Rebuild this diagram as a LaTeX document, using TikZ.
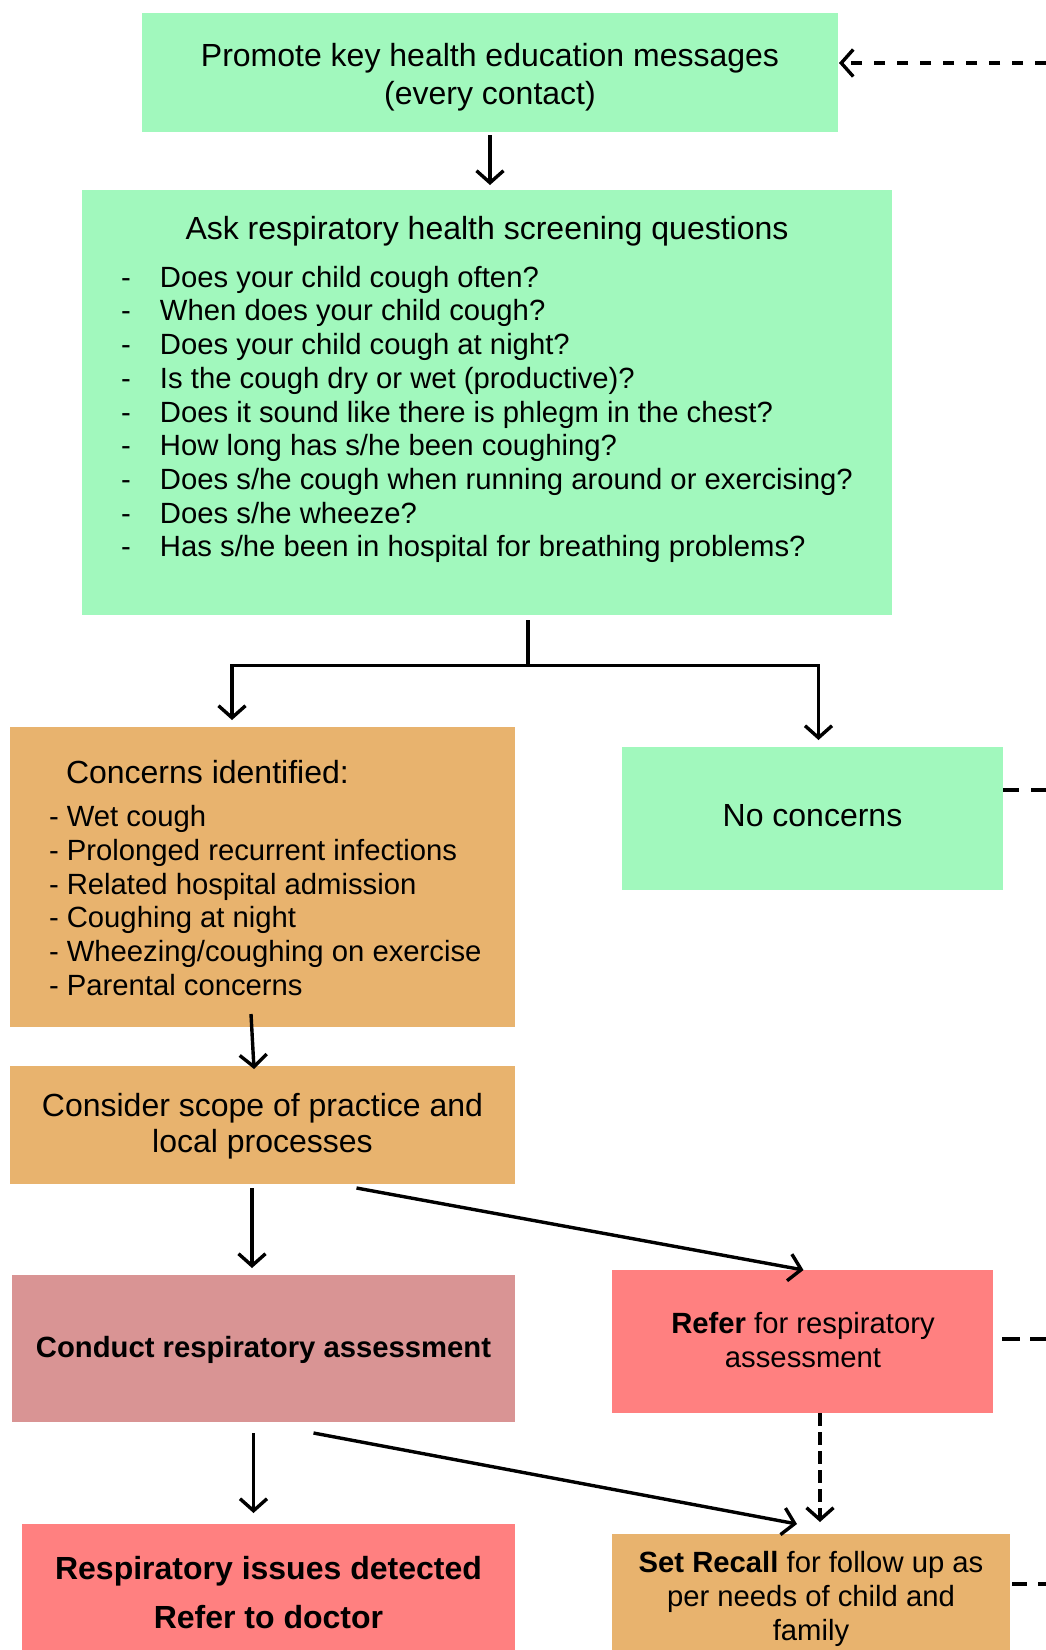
\documentclass[tikz,border=0pt]{standalone}
\usepackage{fontspec}
\setmainfont{Liberation Sans}
\usetikzlibrary{arrows.meta}
\definecolor{cgreen}{RGB}{161,248,189}
\definecolor{corange}{RGB}{232,179,110}
\definecolor{crose}{RGB}{217,148,148}
\definecolor{csalmon}{RGB}{255,128,128}
\newcommand\fsbig{\fontsize{32}{38}\selectfont}
\newcommand\fssmall{\fontsize{29.25}{34}\selectfont}
\begin{document}
\begin{tikzpicture}[x=1pt,y=-1pt,
  boxnode/.style={rectangle,draw=none,inner sep=0pt,outer sep=0pt},
  txt/.style={inner sep=0pt,outer sep=0pt,anchor=base},
  txtl/.style={inner sep=0pt,outer sep=0pt,anchor=base west},
  big/.style={font=\fsbig},
  small/.style={font=\fssmall},
  conn/.style={line width=3.4pt},
  arr/.style={line width=3.4pt,-{Straight Barb[length=12pt,width=27pt]}},
]
\useasboundingbox (0,0) rectangle (1046,1650);
% boxes
\node[boxnode,fill=cgreen,minimum width=696pt,minimum height=119pt] (promote) at (490,72.5) {};
\node[boxnode,fill=cgreen,minimum width=810pt,minimum height=425pt] (ask) at (487,402.5) {};
\node[boxnode,fill=corange,minimum width=505pt,minimum height=300pt] (concerns) at (262.5,877) {};
\node[boxnode,fill=cgreen,minimum width=381pt,minimum height=143pt] (noconc) at (812.5,818.5) {};
\node[boxnode,fill=corange,minimum width=505pt,minimum height=118pt] (consider) at (262.5,1125) {};
\node[boxnode,fill=crose,minimum width=503pt,minimum height=147pt] (conduct) at (263.5,1348.5) {};
\node[boxnode,fill=csalmon,minimum width=381pt,minimum height=143pt] (refer) at (802.5,1341.5) {};
\node[boxnode,fill=csalmon,minimum width=493pt,minimum height=126pt] (resp) at (268.5,1587) {};
\node[boxnode,fill=corange,minimum width=398pt,minimum height=116pt] (recall) at (811,1592) {};

% texts
\node[txt,big] (p1) at (490,66.5) {Promote key health education messages};
\node[txt,big] (p2) at (490,104) {(every contact)};

\node[txt,big] (a0) at (487,239.5) {Ask respiratory health screening questions};
\foreach \t [count=\i from 0] in {Does your child cough often?,
  When does your child cough?,
  Does your child cough at night?,
  Is the cough dry or wet (productive)?,
  Does it sound like there is phlegm in the chest?,
  How long has s/he been coughing?,
  Does s/he cough when running around or exercising?,
  Does s/he wheeze?,
  Has s/he been in hospital for breathing problems?}
  \node[txtl,small] (q\i) at (121,287.2+33.7*\i) {\makebox[39pt][l]{-}\t};

\node[txtl,big] (c0) at (66,783.5) {Concerns identified:};
\foreach \t [count=\i from 0] in {Wet cough,
  Prolonged recurrent infections,
  Related hospital admission,
  Coughing at night,
  Wheezing/coughing on exercise,
  Parental concerns}
  \node[txtl,small] (c\i x) at (49,826.5+33.8*\i) {- \t};

\node[txt,big] (n1) at (812.5,826) {No concerns};

\node[txt,big] (s1) at (262.5,1116.5) {Consider scope of practice and};
\node[txt,big] (s2) at (262.5,1152) {local processes};

\node[txt,small] (d1) at (263.5,1357) {\bfseries Conduct respiratory assessment};

\node[txt,small] (r1) at (803,1333) {\textbf{Refer} for respiratory};
\node[txt,small] (r2) at (803,1367.5) {assessment};

\node[txt,big] (i1) at (268.5,1579) {\bfseries Respiratory issues detected};
\node[txt,big] (i2) at (268.5,1628) {\bfseries Refer to doctor};

\node[txt,small] (e1) at (811,1572.5) {\textbf{Set Recall} for follow up as};
\node[txt,small] (e2) at (811,1606.5) {per needs of child and};
\node[txt,small] (e3) at (811,1640) {family};

% connectors
\draw[arr] ([yshift=-3pt]promote.south) -- ([xshift=3pt,yshift=5pt]ask.north);

\coordinate (split) at (528,665.5);
\coordinate (lc) at (232,665.5);
\coordinate (rc) at (818.5,665.5);
\draw[conn] ([yshift=-5pt]ask.south -| split) -- (split);
\draw[arr] (split) -- (lc) -- ([yshift=7pt]concerns.north -| lc);
\draw[arr] (split) -- (rc) -- ([yshift=7pt]noconc.north -| rc);

\draw[arr] ([xshift=-11.5pt,yshift=13pt]concerns.south) -- ([xshift=-8.5pt,yshift=-3pt]consider.north);
\draw[arr] ([xshift=-10.5pt,yshift=-4pt]consider.south) -- ([xshift=-11.5pt,yshift=7pt]conduct.north);
\draw[arr] ([xshift=94pt,yshift=-4pt]consider.south) -- ([xshift=1pt]refer.north);
\draw[arr] ([xshift=-10pt,yshift=-11pt]conduct.south) -- ([xshift=-15pt,yshift=11pt]resp.north);
\draw[arr] ([xshift=50pt,yshift=-11pt]conduct.south) -- ([xshift=-14pt,yshift=10pt]recall.north);
\draw[arr,dash pattern=on 13pt off 6pt] ([xshift=17.5pt]refer.south) -- ([xshift=9pt,yshift=12pt]recall.north);

% dashed links to the right edge
\coordinate (edge1) at (1046,63);
\coordinate (edge2) at (1046,790);
\coordinate (edge3) at (1046,1339);
\coordinate (edge4) at (1046,1584);
\draw[arr,dash pattern=on 11pt off 12pt] (edge1) -- ([xshift=1pt]edge1 -| promote.east);
\draw[line width=3.4pt,dash pattern=on 16pt off 12pt] (edge2 -| noconc.east) -- (edge2);
\draw[line width=3.4pt,dash pattern=on 18pt off 10pt] ([xshift=9pt]edge3 -| refer.east) -- (edge3);
\draw[line width=3.4pt,dash pattern=on 15pt off 11pt] ([xshift=2pt]edge4 -| recall.east) -- (edge4);
\end{tikzpicture}
\end{document}
